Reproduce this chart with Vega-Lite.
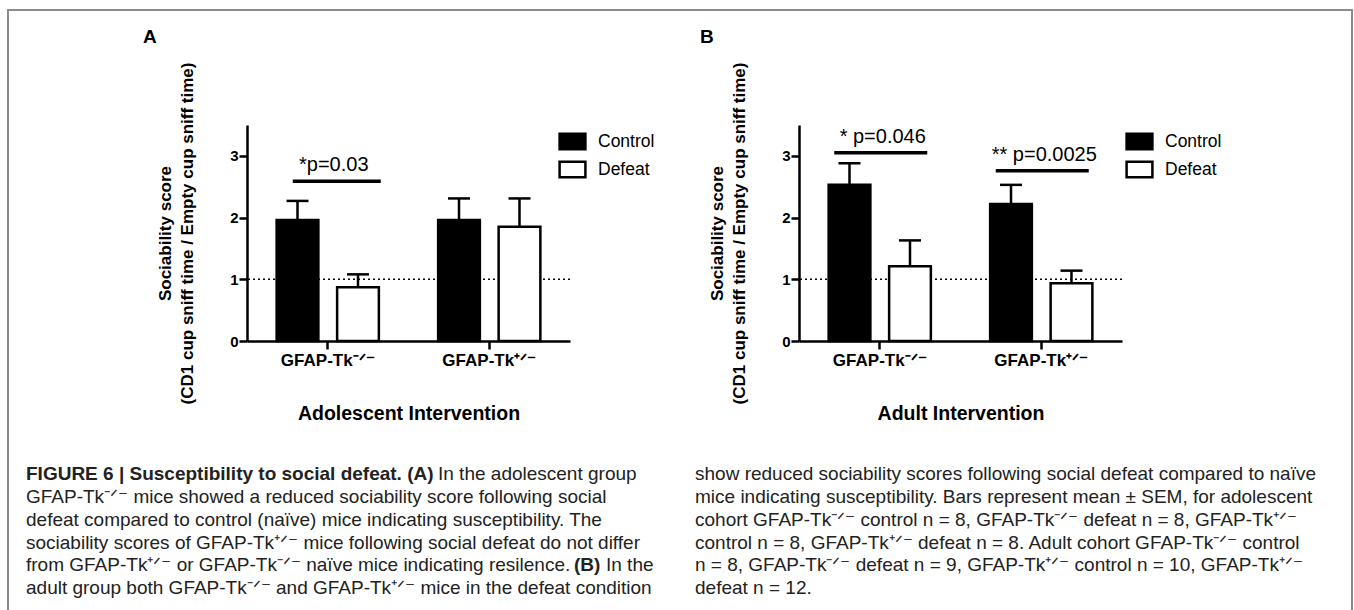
{
  "$schema": "https://vega.github.io/schema/vega-lite/v6.json",
  "background": "white",
  "padding": {"left": 7, "top": 9, "right": 0, "bottom": 0},
  "config": {
    "view": {"stroke": null},
    "font": "Liberation Sans",
    "axis": {"grid": false, "domainColor": "black", "tickColor": "black", "labelColor": "black", "titleColor": "black", "labelFont": "Liberation Sans", "titleFont": "Liberation Sans",
             "tickSize": 8, "tickWidth": 2.5, "domainWidth": 2.5, "labelFontWeight": "bold", "titleFontWeight": "bold"},
    "axisX": {"labelAngle": 0, "labelAlign": "center", "labelBaseline": "top", "labelFontSize": 17, "labelPadding": 3, "titleFontSize": 19.5, "titlePadding": 36},
    "axisY": {"labelFontSize": 15, "labelPadding": 1, "titleFontSize": 17, "titleLineHeight": 22.6, "titlePadding": 33},
    "tick": {"opacity": 1},
    "title": {"font": "Liberation Sans", "color": "black"}
  },
  "datasets": {
    "ref": [{"level": 1}],
    "barsA": [
      {"genotype": "GFAP-Tk-/-", "group": "Control", "mean": 1.96, "upper": 2.27},
      {"genotype": "GFAP-Tk-/-", "group": "Defeat", "mean": 0.87, "upper": 1.08},
      {"genotype": "GFAP-Tk+/-", "group": "Control", "mean": 1.96, "upper": 2.31},
      {"genotype": "GFAP-Tk+/-", "group": "Defeat", "mean": 1.85, "upper": 2.31}
    ],
    "barsB": [
      {"genotype": "GFAP-Tk-/-", "group": "Control", "mean": 2.53, "upper": 2.88},
      {"genotype": "GFAP-Tk-/-", "group": "Defeat", "mean": 1.21, "upper": 1.63},
      {"genotype": "GFAP-Tk+/-", "group": "Control", "mean": 2.22, "upper": 2.53},
      {"genotype": "GFAP-Tk+/-", "group": "Defeat", "mean": 0.935, "upper": 1.14}
    ],
    "sigA": [
      {"genotype": "GFAP-Tk-/-", "sig": 2.59, "label": "*p=0.03"}
    ],
    "sigB": [
      {"genotype": "GFAP-Tk-/-", "sig": 3.05, "label": "* p=0.046"},
      {"genotype": "GFAP-Tk+/-", "sig": 2.76, "label": "** p=0.0025"}
    ],
    "caption": [
      {"col": "left", "line": 1, "seg": "head", "text": "FIGURE 6 | Susceptibility to social defeat. (A)"},
      {"col": "left", "line": 1, "seg": "after-head", "text": "In the adolescent group"},
      {"col": "left", "line": 2, "seg": "body", "text": "GFAP-Tk⁻ᐟ⁻ mice showed a reduced sociability score following social"},
      {"col": "left", "line": 3, "seg": "body", "text": "defeat compared to control (naïve) mice indicating susceptibility. The"},
      {"col": "left", "line": 4, "seg": "body", "text": "sociability scores of GFAP-Tk⁺ᐟ⁻ mice following social defeat do not differ"},
      {"col": "left", "line": 5, "seg": "body", "text": "from GFAP-Tk⁺ᐟ⁻ or GFAP-Tk⁻ᐟ⁻ naïve mice indicating resilence."},
      {"col": "left", "line": 5, "seg": "label-b", "text": "(B)"},
      {"col": "left", "line": 5, "seg": "after-label", "text": "In the"},
      {"col": "left", "line": 6, "seg": "body", "text": "adult group both GFAP-Tk⁻ᐟ⁻ and GFAP-Tk⁺ᐟ⁻ mice in the defeat condition"},
      {"col": "right", "line": 1, "seg": "body", "text": "show reduced sociability scores following social defeat compared to naïve"},
      {"col": "right", "line": 2, "seg": "body", "text": "mice indicating susceptibility. Bars represent mean ± SEM, for adolescent"},
      {"col": "right", "line": 3, "seg": "body", "text": "cohort GFAP-Tk⁻ᐟ⁻ control n = 8, GFAP-Tk⁻ᐟ⁻ defeat n = 8, GFAP-Tk⁺ᐟ⁻"},
      {"col": "right", "line": 4, "seg": "body", "text": "control n = 8, GFAP-Tk⁺ᐟ⁻ defeat n = 8. Adult cohort GFAP-Tk⁻ᐟ⁻ control"},
      {"col": "right", "line": 5, "seg": "body", "text": "n = 8, GFAP-Tk⁻ᐟ⁻ defeat n = 9, GFAP-Tk⁺ᐟ⁻ control n = 10, GFAP-Tk⁺ᐟ⁻"},
      {"col": "right", "line": 6, "seg": "body", "text": "defeat n = 12."}
    ]
  },
  "spacing": -623,
  "align": "none",
  "vconcat": [
    {
      "width": 1344, "height": 640,
      "view": {"stroke": "#8a8a8a", "strokeWidth": 2},
      "data": {"values": []},
      "mark": "rect",
      "encoding": {}
    },
    {
      "spacing": 40,
      "vconcat": [
        {
          "spacing": 45,
          "resolve": {"scale": {"fill": "independent"}, "legend": {"fill": "independent"}},
          "hconcat": [
            {"width": 90, "height": 10, "data": {"values": []}, "mark": "rect", "encoding": {}},
            {
              "width": 323, "height": 216,
              "title": {"text": "A", "anchor": "start", "frame": "group", "dx": -104, "offset": 0, "baseline": "alphabetic", "fontSize": 19, "fontWeight": "bold"},
              "layer": [
                {"data": {"name": "ref"}, "mark": {"type": "rule", "strokeDash": [2, 3], "strokeWidth": 1.5, "color": "black"},
                 "encoding": {"y": {"field": "level", "type": "quantitative", "scale": {"domain": [0, 3.5], "nice": false},
                   "axis": {"title": ["Sociability score", "(CD1 cup sniff time / Empty cup sniff time)"], "values": [0, 1, 2, 3], "format": "d"}}}},
                {"data": {"name": "barsA"}, "mark": {"type": "rule", "strokeWidth": 2.5, "color": "black"},
                 "encoding": {
                   "x": {"field": "genotype", "type": "nominal", "sort": ["GFAP-Tk-/-", "GFAP-Tk+/-"],
                         "axis": {"title": "Adolescent Intervention", "labelExpr": "datum.value == 'GFAP-Tk-/-' ? 'GFAP-Tk⁻ᐟ⁻' : 'GFAP-Tk⁺ᐟ⁻'"}},
                   "xOffset": {"field": "group", "type": "nominal", "sort": ["Control", "Defeat"]},
                   "y": {"field": "mean", "type": "quantitative",
                         "axis": {"title": ["Sociability score", "(CD1 cup sniff time / Empty cup sniff time)"], "values": [0, 1, 2, 3], "format": "d"}},
                   "y2": {"field": "upper"}}},
                {"data": {"name": "barsA"}, "mark": {"type": "tick", "thickness": 2.5, "size": 22, "color": "black", "opacity": 1},
                 "encoding": {
                   "x": {"field": "genotype", "type": "nominal", "sort": ["GFAP-Tk-/-", "GFAP-Tk+/-"],
                         "axis": {"title": "Adolescent Intervention", "labelExpr": "datum.value == 'GFAP-Tk-/-' ? 'GFAP-Tk⁻ᐟ⁻' : 'GFAP-Tk⁺ᐟ⁻'"}},
                   "xOffset": {"field": "group", "type": "nominal", "sort": ["Control", "Defeat"]},
                   "y": {"field": "upper", "type": "quantitative",
                         "axis": {"title": ["Sociability score", "(CD1 cup sniff time / Empty cup sniff time)"], "values": [0, 1, 2, 3], "format": "d"}}}},
                {"data": {"name": "barsA"}, "mark": {"type": "bar", "stroke": "black", "strokeWidth": 2.5},
                 "encoding": {
                   "x": {"field": "genotype", "type": "nominal", "sort": ["GFAP-Tk-/-", "GFAP-Tk+/-"],
                         "scale": {"paddingInner": 0, "paddingOuter": 0},
                         "axis": {"title": "Adolescent Intervention", "labelExpr": "datum.value == 'GFAP-Tk-/-' ? 'GFAP-Tk⁻ᐟ⁻' : 'GFAP-Tk⁺ᐟ⁻'"}},
                   "xOffset": {"field": "group", "type": "nominal", "sort": ["Control", "Defeat"], "scale": {"paddingInner": 0.31, "paddingOuter": 0.49}},
                   "y": {"field": "mean", "type": "quantitative", "scale": {"domain": [0, 3.5], "nice": false},
                         "axis": {"title": ["Sociability score", "(CD1 cup sniff time / Empty cup sniff time)"], "values": [0, 1, 2, 3], "format": "d"}},
                   "fill": {"field": "group", "type": "nominal", "scale": {"domain": ["Control", "Defeat"], "range": ["black", "white"]},
                            "legend": {"orient": "none", "legendX": 311, "legendY": 2, "title": null,
                                       "symbolType": "M-1,-0.6H1V0.6H-1Z", "symbolSize": 666, "symbolStrokeColor": "black", "symbolStrokeWidth": 2.5,
                                       "labelFontSize": 17.5, "labelFont": "Liberation Sans", "labelColor": "black", "labelOffset": 11, "rowPadding": -5}}}},
                {"data": {"name": "sigA"}, "mark": {"type": "tick", "thickness": 3.5, "size": 88, "color": "black", "opacity": 1, "xOffset": 9},
                 "encoding": {
                   "x": {"field": "genotype", "type": "nominal", "sort": ["GFAP-Tk-/-", "GFAP-Tk+/-"],
                         "axis": {"title": "Adolescent Intervention", "labelExpr": "datum.value == 'GFAP-Tk-/-' ? 'GFAP-Tk⁻ᐟ⁻' : 'GFAP-Tk⁺ᐟ⁻'"}},
                   "y": {"field": "sig", "type": "quantitative",
                         "axis": {"title": ["Sociability score", "(CD1 cup sniff time / Empty cup sniff time)"], "values": [0, 1, 2, 3], "format": "d"}}}},
                {"data": {"name": "sigA"}, "mark": {"type": "text", "dy": -10, "dx": 6, "baseline": "alphabetic", "fontSize": 20, "font": "Liberation Sans", "color": "black"},
                 "encoding": {
                   "x": {"field": "genotype", "type": "nominal", "sort": ["GFAP-Tk-/-", "GFAP-Tk+/-"],
                         "axis": {"title": "Adolescent Intervention", "labelExpr": "datum.value == 'GFAP-Tk-/-' ? 'GFAP-Tk⁻ᐟ⁻' : 'GFAP-Tk⁺ᐟ⁻'"}},
                   "y": {"field": "sig", "type": "quantitative",
                         "axis": {"title": ["Sociability score", "(CD1 cup sniff time / Empty cup sniff time)"], "values": [0, 1, 2, 3], "format": "d"}},
                   "text": {"field": "label"}}}
              ]
            },
            {
              "width": 323, "height": 216,
              "title": {"text": "B", "anchor": "start", "frame": "group", "dx": -99, "offset": 0, "baseline": "alphabetic", "fontSize": 19, "fontWeight": "bold"},
              "layer": [
                {"data": {"name": "ref"}, "mark": {"type": "rule", "strokeDash": [2, 3], "strokeWidth": 1.5, "color": "black"},
                 "encoding": {"y": {"field": "level", "type": "quantitative", "scale": {"domain": [0, 3.5], "nice": false},
                   "axis": {"title": ["Sociability score", "(CD1 cup sniff time / Empty cup sniff time)"], "values": [0, 1, 2, 3], "format": "d"}}}},
                {"data": {"name": "barsB"}, "mark": {"type": "rule", "strokeWidth": 2.5, "color": "black"},
                 "encoding": {
                   "x": {"field": "genotype", "type": "nominal", "sort": ["GFAP-Tk-/-", "GFAP-Tk+/-"],
                         "axis": {"title": "Adult Intervention", "labelExpr": "datum.value == 'GFAP-Tk-/-' ? 'GFAP-Tk⁻ᐟ⁻' : 'GFAP-Tk⁺ᐟ⁻'"}},
                   "xOffset": {"field": "group", "type": "nominal", "sort": ["Control", "Defeat"]},
                   "y": {"field": "mean", "type": "quantitative",
                         "axis": {"title": ["Sociability score", "(CD1 cup sniff time / Empty cup sniff time)"], "values": [0, 1, 2, 3], "format": "d"}},
                   "y2": {"field": "upper"}}},
                {"data": {"name": "barsB"}, "mark": {"type": "tick", "thickness": 2.5, "size": 22, "color": "black", "opacity": 1},
                 "encoding": {
                   "x": {"field": "genotype", "type": "nominal", "sort": ["GFAP-Tk-/-", "GFAP-Tk+/-"],
                         "axis": {"title": "Adult Intervention", "labelExpr": "datum.value == 'GFAP-Tk-/-' ? 'GFAP-Tk⁻ᐟ⁻' : 'GFAP-Tk⁺ᐟ⁻'"}},
                   "xOffset": {"field": "group", "type": "nominal", "sort": ["Control", "Defeat"]},
                   "y": {"field": "upper", "type": "quantitative",
                         "axis": {"title": ["Sociability score", "(CD1 cup sniff time / Empty cup sniff time)"], "values": [0, 1, 2, 3], "format": "d"}}}},
                {"data": {"name": "barsB"}, "mark": {"type": "bar", "stroke": "black", "strokeWidth": 2.5},
                 "encoding": {
                   "x": {"field": "genotype", "type": "nominal", "sort": ["GFAP-Tk-/-", "GFAP-Tk+/-"],
                         "scale": {"paddingInner": 0, "paddingOuter": 0},
                         "axis": {"title": "Adult Intervention", "labelExpr": "datum.value == 'GFAP-Tk-/-' ? 'GFAP-Tk⁻ᐟ⁻' : 'GFAP-Tk⁺ᐟ⁻'"}},
                   "xOffset": {"field": "group", "type": "nominal", "sort": ["Control", "Defeat"], "scale": {"paddingInner": 0.31, "paddingOuter": 0.49}},
                   "y": {"field": "mean", "type": "quantitative", "scale": {"domain": [0, 3.5], "nice": false},
                         "axis": {"title": ["Sociability score", "(CD1 cup sniff time / Empty cup sniff time)"], "values": [0, 1, 2, 3], "format": "d"}},
                   "fill": {"field": "group", "type": "nominal", "scale": {"domain": ["Control", "Defeat"], "range": ["black", "white"]},
                            "legend": {"orient": "none", "legendX": 326, "legendY": 2, "title": null,
                                       "symbolType": "M-1,-0.6H1V0.6H-1Z", "symbolSize": 666, "symbolStrokeColor": "black", "symbolStrokeWidth": 2.5,
                                       "labelFontSize": 17.5, "labelFont": "Liberation Sans", "labelColor": "black", "labelOffset": 11, "rowPadding": -5}}}},
                {"data": {"name": "sigB"}, "mark": {"type": "tick", "thickness": 3.5, "size": 93, "color": "black", "opacity": 1, "xOffset": 1},
                 "encoding": {
                   "x": {"field": "genotype", "type": "nominal", "sort": ["GFAP-Tk-/-", "GFAP-Tk+/-"],
                         "axis": {"title": "Adult Intervention", "labelExpr": "datum.value == 'GFAP-Tk-/-' ? 'GFAP-Tk⁻ᐟ⁻' : 'GFAP-Tk⁺ᐟ⁻'"}},
                   "y": {"field": "sig", "type": "quantitative",
                         "axis": {"title": ["Sociability score", "(CD1 cup sniff time / Empty cup sniff time)"], "values": [0, 1, 2, 3], "format": "d"}}}},
                {"data": {"name": "sigB"}, "mark": {"type": "text", "dy": -10, "dx": 3, "baseline": "alphabetic", "fontSize": 20, "font": "Liberation Sans", "color": "black"},
                 "encoding": {
                   "x": {"field": "genotype", "type": "nominal", "sort": ["GFAP-Tk-/-", "GFAP-Tk+/-"],
                         "axis": {"title": "Adult Intervention", "labelExpr": "datum.value == 'GFAP-Tk-/-' ? 'GFAP-Tk⁻ᐟ⁻' : 'GFAP-Tk⁺ᐟ⁻'"}},
                   "y": {"field": "sig", "type": "quantitative",
                         "axis": {"title": ["Sociability score", "(CD1 cup sniff time / Empty cup sniff time)"], "values": [0, 1, 2, 3], "format": "d"}},
                   "text": {"field": "label"}}}
              ]
            }
          ]
        },
        {
          "width": 1338, "height": 136.5,
          "data": {"name": "caption"},
          "encoding": {
            "x": {"field": "col", "type": "nominal", "scale": {"type": "point", "domain": ["left", "right"], "padding": 0.5, "align": 0}, "axis": null},
            "y": {"field": "line", "type": "ordinal", "scale": {"paddingInner": 0, "paddingOuter": 0}, "axis": null},
            "text": {"field": "text"}
          },
          "layer": [
            {"transform": [{"filter": "datum.seg == 'body'"}],
             "mark": {"type": "text", "align": "left", "baseline": "middle", "dx": 18, "fontSize": 19, "font": "Liberation Sans", "color": "#222"}},
            {"transform": [{"filter": "datum.seg == 'head'"}],
             "mark": {"type": "text", "align": "left", "baseline": "middle", "dx": 18, "fontSize": 19, "fontWeight": "bold", "font": "Liberation Sans", "color": "#222"}},
            {"transform": [{"filter": "datum.seg == 'after-head'"}],
             "mark": {"type": "text", "align": "left", "baseline": "middle", "dx": 430, "fontSize": 19, "font": "Liberation Sans", "color": "#222"}},
            {"transform": [{"filter": "datum.seg == 'label-b'"}],
             "mark": {"type": "text", "align": "left", "baseline": "middle", "dx": 566, "fontSize": 19, "fontWeight": "bold", "font": "Liberation Sans", "color": "#222"}},
            {"transform": [{"filter": "datum.seg == 'after-label'"}],
             "mark": {"type": "text", "align": "left", "baseline": "middle", "dx": 598, "fontSize": 19, "font": "Liberation Sans", "color": "#222"}}
          ]
        }
      ]
    }
  ]
}
